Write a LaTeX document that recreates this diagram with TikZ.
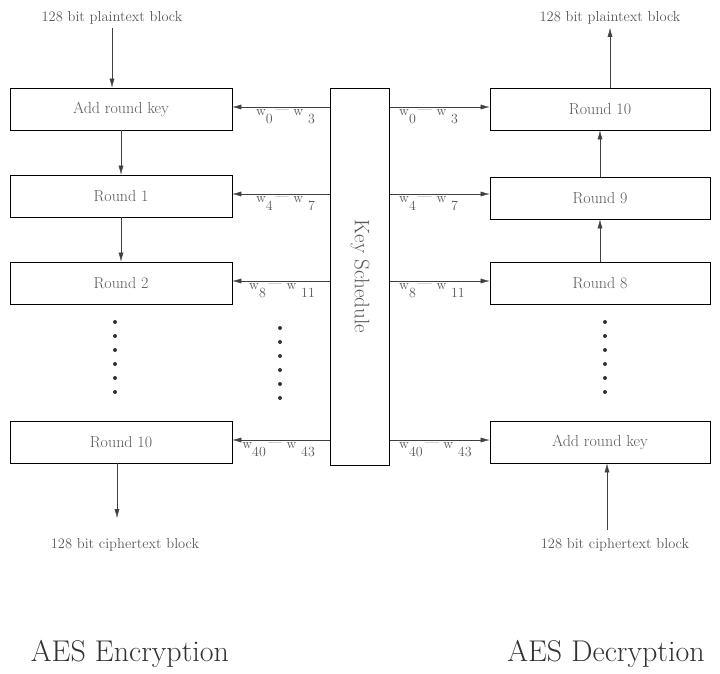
\documentclass[tikz,border=0pt]{standalone}
\usetikzlibrary{positioning,arrows.meta}
\begin{document}
\begin{tikzpicture}[x=1pt,y=-1pt,>={Latex[length=9pt,width=5pt]},
  box/.style={draw,thick,minimum width=222pt,minimum height=42pt,inner sep=0pt,text=black!65,font=\fontsize{16}{18}\selectfont},
  lbl/.style={text=black!65,font=\fontsize{14.5}{16}\selectfont},
  key/.style={text=black!65,font=\fontsize{14}{16}\selectfont,inner sep=1pt},
  flow/.style={->,thin,black!75}]
\useasboundingbox (0,0) rectangle (720,674);
% encryption
\node[box] (e0) at (121,109) {Add round key};
\node[box] (e1) at (121,196) {Round 1};
\node[box] (e2) at (121,283) {Round 2};
\node[box] (e10) at (121,442) {Round 10};
% decryption
\node[box,minimum width=220pt] (d10) at (600,109) {Round 10};
\node[box,minimum width=220pt] (d9) at (600,198) {Round 9};
\node[box,minimum width=220pt] (d8) at (600,283) {Round 8};
\node[box,minimum width=220pt] (d0) at (600,442) {Add round key};
% key schedule
\node[draw,thick,minimum width=59pt,minimum height=377pt,inner sep=0pt] (ks) at (360,276.5)
  {\rotatebox{-90}{\textcolor{black!65}{\fontsize{21}{24}\selectfont Key Schedule}}};
% in/out texts
\node[lbl] (pin) at (112,18) {128 bit plaintext block};
\node[lbl] (cout) at (125,545) {128 bit ciphertext block};
\node[lbl] (pout) at (610,18) {128 bit plaintext block};
\node[lbl] (cin) at (615,545) {128 bit ciphertext block};
\draw[flow] (pin) -- (pin |- e0.north);
\draw[flow] (e0) -- (e1);
\draw[flow] (e1) -- (e2);
\draw[flow] (e10.south -| 117,0) -- (117,518) coordinate (cend);
\draw[flow] (607,530) coordinate (cst) -- (cst |- d0.south);
\draw[flow] (d8) -- (d9);
\draw[flow] (d9) -- (d10);
\draw[flow] (d10.north -| pout) -- (pout);
% round keys
\foreach \e/\d/\a/\b in {e0/d10/0/3,e1/d9/4/7,e2/d8/8/11,e10/d0/40/43}{
  \draw[flow] (ks.west |- \e.east) ++(0,-2) coordinate (kl\a) -- (\e.east |- kl\a);
  \draw[flow] (ks.east |- \e.east) ++(0,-2) coordinate (kr\a) -- (\d.west |- kr\a);
  \node[key,below left=1pt and 14pt of kl\a] {w\raisebox{-1.3ex}{\a}\,\raisebox{0.3ex}{---}\,\,w\raisebox{-1.3ex}{\,\,\b}};
  \node[key,below right=1pt and 8pt of kr\a] {w\raisebox{-1.3ex}{\a}\,\raisebox{0.3ex}{---}\,\,w\raisebox{-1.3ex}{\,\,\b}};
}
% dots
\foreach \x/\t in {115/322,280/328,605/322}
  \foreach \i in {0,...,5}
    \fill[black!80] (\x,\t+\i*14) circle (2pt);
% titles
\node[font=\fontsize{30}{34}\selectfont,text=black!80] (enc) at (130,654) {AES Encryption};
\node[font=\fontsize{30}{34}\selectfont,text=black!80] (dec) at (606,654) {AES Decryption};
\end{tikzpicture}
\end{document}
